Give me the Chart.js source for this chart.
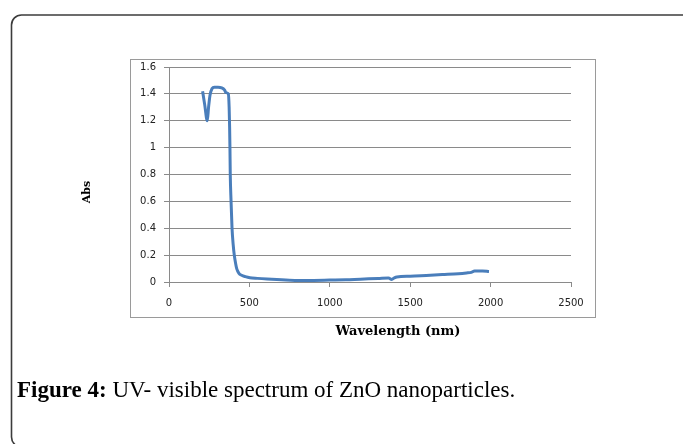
<!DOCTYPE html>
<html>
<head>
<meta charset="utf-8">
<script src="https://cdn.jsdelivr.net/npm/chart.js@4.4.1/dist/chart.umd.min.js"></script>
<style>
  html, body { margin: 0; padding: 0; background: #fff; }
  #wrap { width: 683px; height: 444px; position: relative; }
</style>
</head>
<body>
<div id="wrap"><canvas id="uvChart"></canvas></div>
<script>
// UV-vis spectrum values
const wavelength = [209, 222, 238, 246, 255, 268, 282, 305, 328, 345, 354, 369, 374, 377, 379, 381, 386, 392, 399, 406, 414, 421, 435, 452, 475, 503, 550, 610, 700, 795, 900, 1000, 1100, 1190, 1300, 1365, 1385, 1400, 1417, 1500, 1600, 1700, 1800, 1850, 1880, 1900, 1950, 1990];
const absorbance = [1.42, 1.32, 1.20, 1.30, 1.39, 1.44, 1.45, 1.45, 1.445, 1.43, 1.41, 1.40, 1.30, 1.15, 1.00, 0.80, 0.60, 0.40, 0.28, 0.20, 0.14, 0.10, 0.065, 0.05, 0.04, 0.032, 0.027, 0.022, 0.016, 0.011, 0.012, 0.014, 0.016, 0.021, 0.026, 0.030, 0.019, 0.030, 0.038, 0.043, 0.049, 0.055, 0.061, 0.067, 0.072, 0.082, 0.082, 0.078];

const xTickLabels = ['0', '500', '1000', '1500', '2000', '2500'];
const yTickLabels = ['0', '0.2', '0.4', '0.6', '0.8', '1', '1.2', '1.4', '1.6'];

const xTitle = 'Wavelength (nm)';
const yTitle = 'Abs';
const captionBold = 'Figure 4:';
const captionText = ' UV- visible spectrum of ZnO nanoparticles.';

const points = wavelength.map((w, i) => ({ x: w, y: absorbance[i] }));

// frame, inner box, axis titles and caption
const decorations = {
    id: 'decorations',
    beforeDraw(chart) {
        const ctx = chart.ctx;
        ctx.save();
        ctx.fillStyle = '#ffffff';
        ctx.fillRect(0, 0, chart.width, chart.height);
        // outer rounded frame (runs off right and bottom)
        ctx.strokeStyle = '#3c3c3c';
        ctx.lineWidth = 1.6;
        ctx.beginPath();
        ctx.roundRect(11.5, 15, 690, 432, 10);
        ctx.stroke();
        // inner chart box
        ctx.strokeStyle = '#9a9a9a';
        ctx.lineWidth = 1;
        ctx.strokeRect(130.5, 59.5, 465, 258);
        ctx.restore();
    },
    afterDraw(chart) {
        const ctx = chart.ctx;
        ctx.save();
        ctx.fillStyle = '#000';
        ctx.textAlign = 'center';
        ctx.textBaseline = 'middle';
        ctx.font = 'bold 13px "DejaVu Serif"';
        ctx.fillText(xTitle, 398, 332);
        ctx.translate(87.5, 192);
        ctx.rotate(-Math.PI / 2);
        ctx.font = 'bold 11px "DejaVu Serif"';
        ctx.fillText(yTitle, 0, 0);
        ctx.restore();

        ctx.save();
        ctx.fillStyle = '#000';
        ctx.textAlign = 'left';
        ctx.textBaseline = 'alphabetic';
        ctx.font = 'bold 23px "Liberation Serif"';
        ctx.fillText(captionBold, 17, 397);
        const w = ctx.measureText(captionBold).width;
        ctx.font = '23px "Liberation Serif"';
        ctx.fillText(captionText, 17 + w, 397);
        ctx.restore();
    }
};

new Chart(document.getElementById('uvChart'), {
    type: 'line',
    data: {
        datasets: [{
            data: points,
            borderColor: '#4a7ebb',
            borderWidth: 3,
            pointRadius: 0,
            cubicInterpolationMode: 'monotone',
            fill: false
        }]
    },
    options: {
        responsive: true,
        maintainAspectRatio: false,
        animation: false,
        layout: {
            padding: { left: 0, top: 67, right: 112, bottom: 132 }
        },
        plugins: {
            legend: { display: false },
            tooltip: { enabled: false }
        },
        scales: {
            x: {
                type: 'linear',
                min: 0,
                max: 2500,
                afterBuildTicks: (scale) => {
                    scale.ticks = xTickLabels.map(v => ({ value: Number(v) }));
                },
                afterFit: (scale) => { scale.height = 30; },
                ticks: {
                    callback: (v) => xTickLabels.find(t => Number(t) === v),
                    color: '#222',
                    font: { family: 'DejaVu Sans', size: 10 },
                    padding: 10,
                    maxRotation: 0
                },
                grid: {
                    drawOnChartArea: false,
                    drawTicks: true,
                    tickLength: 5,
                    color: '#8a8a8a'
                },
                border: { display: true, color: '#8a8a8a' }
            },
            y: {
                min: 0,
                max: 1.6,
                afterBuildTicks: (scale) => {
                    scale.ticks = yTickLabels.map(v => ({ value: Number(v) }));
                },
                afterFit: (scale) => { scale.width = 169; },
                ticks: {
                    callback: (v) => yTickLabels.find(t => Number(t) === v),
                    color: '#222',
                    font: { family: 'DejaVu Sans', size: 10 },
                    padding: 8
                },
                grid: {
                    color: '#8a8a8a',
                    tickLength: 5
                },
                border: { display: true, color: '#8a8a8a' }
            }
        }
    },
    plugins: [decorations]
});
</script>
</body>
</html>
